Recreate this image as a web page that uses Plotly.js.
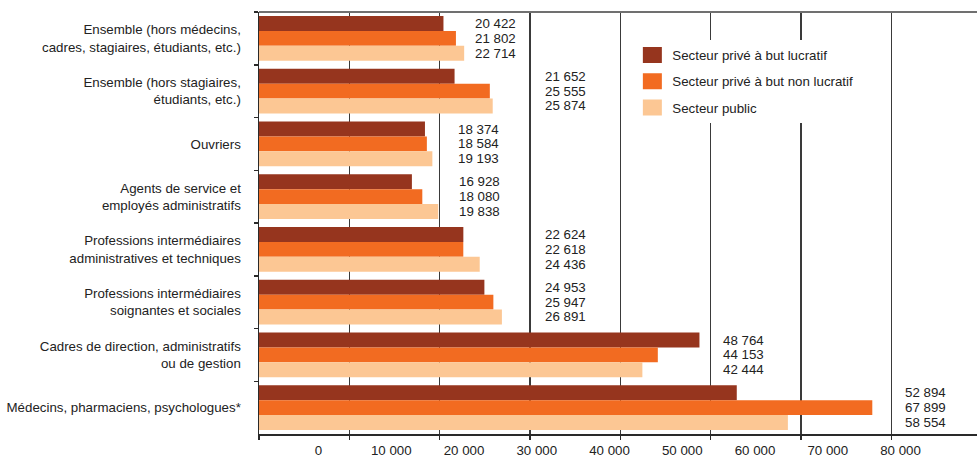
<!DOCTYPE html>
<html>
<head>
<meta charset="utf-8">
<script src="https://cdn.plot.ly/plotly-3.0.1.min.js"></script>
<style>html,body{margin:0;padding:0;background:#fff;}#chart{width:977px;height:457px;}</style>
</head>
<body>
<div id="chart"></div>
<script>
// ---- data ----
const categories = [
  "Ensemble (hors médecins,<br>cadres, stagiaires, étudiants, etc.)",
  "Ensemble (hors stagiaires,<br>étudiants, etc.)",
  "Ouvriers",
  "Agents de service et<br>employés administratifs",
  "Professions intermédiaires<br>administratives et techniques",
  "Professions intermédiaires<br>soignantes et sociales",
  "Cadres de direction, administratifs<br>ou de gestion",
  "Médecins, pharmaciens, psychologues*"
];
const seriesNames = ["Secteur privé à but lucratif", "Secteur privé à but non lucratif", "Secteur public"];
const privLucratif    = [20422, 21652, 18374, 16928, 22624, 24953, 48764, 52894];
const privNonLucratif = [21802, 25555, 18584, 18080, 22618, 25947, 44153, 67899];
const secteurPublic   = [22714, 25874, 19193, 19838, 24436, 26891, 42444, 58554];
const axisTickLabels  = [0, 10000, 20000, 30000, 40000, 50000, 60000, 70000, 80000];

// ---- presentation ----
const colors = ["#96351e", "#f26b21", "#fcc794"];
const FONT = "'Liberation Sans', Arial, sans-serif";
const FS = 13.3;
const TXT = "#222222";
const BARGAP = 0.155;
// left edge (in value units) of the column of value labels for each group
const labelColumn = [23690, 31440, 21810, 21920, 31440, 31440, 51150, 71290];

const allSeries = [privLucratif, privNonLucratif, secteurPublic];
const fmt = v => String(v).replace(/\B(?=(\d{3})+(?!\d))/g, ' ');

const traces = allSeries.map((vals, k) => ({
  type: 'bar', orientation: 'h',
  name: seriesNames[k], legendgroup: 'g' + k,
  x: vals, y: categories,
  marker: {color: colors[k], line: {width: 0}},
  hoverinfo: 'skip'
}));
// carrier for the label axis
traces.push({type: 'scatter', x: [], y: [], xaxis: 'x2', yaxis: 'y', showlegend: false, hoverinfo: 'skip'});

const w = (1 - BARGAP) / 3;
const annotations = [];
categories.forEach((c, i) => {
  allSeries.forEach((vals, k) => {
    annotations.push({
      xref: 'x', yref: 'y',
      x: labelColumn[i], y: i + (k - 1) * w,
      xanchor: 'left', yanchor: 'middle',
      text: fmt(vals[i]), showarrow: false,
      font: {family: FONT, size: FS, color: TXT}
    });
  });
});

const layout = {
  width: 977, height: 457,
  margin: {l: 259, r: 0, t: 12, b: 23, pad: 0},
  paper_bgcolor: '#fff', plot_bgcolor: '#fff',
  separators: ', ',
  font: {family: FONT, size: FS, color: TXT},
  barmode: 'group', bargap: BARGAP, bargroupgap: 0,
  xaxis: {
    range: [0, 79490], tick0: 0, dtick: 10000,
    showticklabels: false, ticks: 'outside', ticklen: 4, tickwidth: 1.5, tickcolor: '#2a2a2a',
    showgrid: true, gridcolor: '#3a3a3a', gridwidth: 1.5,
    showline: true, linecolor: '#2a2a2a', linewidth: 1.5, zeroline: false, fixedrange: true
  },
  xaxis2: {
    overlaying: 'x', anchor: 'y', side: 'bottom',
    range: [-8179, 90515], tickmode: 'array', tickvals: axisTickLabels, tickformat: ',d',
    showgrid: false, showline: false, zeroline: false, ticks: '',
    tickfont: {family: FONT, size: FS, color: TXT}, ticklabelstandoff: 7, fixedrange: true
  },
  yaxis: {
    type: 'category', autorange: 'reversed', tickson: 'boundaries',
    ticks: 'outside', ticklen: 4, tickwidth: 1.5, tickcolor: '#2a2a2a',
    showline: true, linecolor: '#2a2a2a', linewidth: 1.5, showgrid: false, zeroline: false,
    tickfont: {family: FONT, size: FS, color: TXT}, ticklabelstandoff: 14, fixedrange: true
  },
  legend: {
    x: 0.52, y: 0.934, xanchor: 'left', yanchor: 'top',
    bgcolor: '#fff', borderwidth: 0, traceorder: 'grouped', tracegroupgap: 6,
    font: {family: FONT, size: FS, color: TXT}
  },
  shapes: [{type: 'line', xref: 'paper', yref: 'paper', x0: 0, x1: 1, y0: 1, y1: 1,
            line: {color: '#707070', width: 2}}],
  annotations: annotations
};

const gd = document.getElementById('chart');
Plotly.newPlot(gd, traces, layout, {displayModeBar: false, staticPlot: true}).then(() => {
  gd.querySelectorAll('.legend .legendpoints path').forEach(p => p.setAttribute('d', 'M9.5,8H-9.5V-8H9.5Z'));
});
</script>
</body>
</html>
